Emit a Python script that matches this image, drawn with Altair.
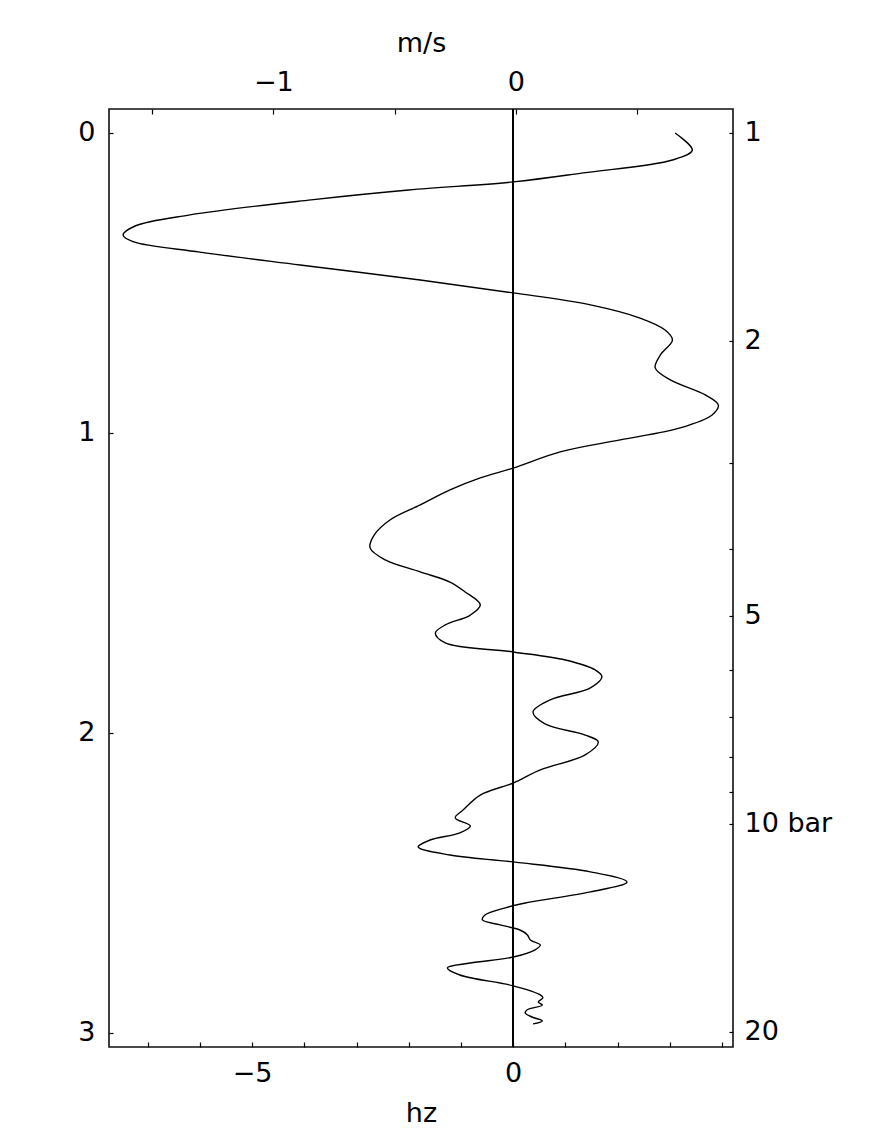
import altair as alt
import pandas as pd
import math

# ln(p) (left axis) and frequency in hz (bottom axis)
t_vals = [0.000, 0.057, 0.090, 0.133, 0.163, 0.190, 0.223, 0.273, 0.310, 0.340,
          0.362, 0.397, 0.440, 0.490, 0.533, 0.573, 0.617, 0.657, 0.690, 0.740,
          0.783, 0.823, 0.873, 0.907, 0.940, 0.983, 1.023, 1.063, 1.117, 1.150,
          1.190, 1.240, 1.290, 1.340, 1.383, 1.423, 1.463, 1.497, 1.530, 1.573,
          1.607, 1.640, 1.667, 1.700, 1.730, 1.757, 1.790, 1.813, 1.850, 1.890,
          1.930, 1.970, 2.007, 2.030, 2.073, 2.123, 2.167, 2.207, 2.257, 2.283,
          2.310, 2.333, 2.357, 2.380, 2.407, 2.430, 2.463, 2.497, 2.530, 2.567,
          2.583, 2.607, 2.623, 2.640, 2.657, 2.673, 2.690, 2.707, 2.723, 2.747,
          2.767, 2.783, 2.807, 2.843, 2.873, 2.883, 2.897, 2.907, 2.923, 2.933,
          2.947, 2.960, 2.970]
hz_vals = [3.10, 3.43, 3.05, 1.34, 0.00, -2.00, -3.87, -6.19, -7.24, -7.47,
           -7.28, -6.00, -4.08, -1.78, 0.00, 1.48, 2.43, 2.91, 3.05, 2.82,
           2.72, 3.01, 3.68, 3.93, 3.81, 3.20, 2.05, 0.90, 0.00, -0.63,
           -1.21, -1.78, -2.36, -2.66, -2.74, -2.45, -1.78, -1.21, -0.92, -0.63,
           -0.82, -1.30, -1.49, -1.30, 0.00, 1.00, 1.57, 1.70, 1.48, 0.71,
           0.38, 0.61, 1.38, 1.63, 1.38, 0.52, 0.00, -0.63, -0.96, -1.11,
           -0.82, -1.02, -1.59, -1.82, -1.21, 0.00, 1.48, 2.18, 1.48, 0.23,
           -0.15, -0.54, -0.59, -0.25, 0.13, 0.27, 0.33, 0.52, 0.42, 0.00,
           -0.82, -1.26, -1.02, 0.00, 0.52, 0.57, 0.48, 0.56, 0.27, 0.23,
           0.36, 0.56, 0.38]

hz_domain = [-7.74, 4.21]
ms_domain = [-1.678, 0.896]
t_domain = [-0.08, 3.047]
p_domain = [math.exp(t_domain[0]), math.exp(t_domain[1])]

hz_ticks = [-7, -6, -5, -4, -3, -2, -1, 0, 1, 2, 3, 4]
ms_ticks = [-1.5, -1, -0.5, 0, 0.5]
t_ticks = [0, 1, 2, 3]
p_ticks = [1, 2, 3, 4, 5, 6, 7, 8, 9, 10, 20]

curve = pd.DataFrame({"i": list(range(len(t_vals))), "t": t_vals, "hz": hz_vals})
ms_df = pd.DataFrame({"ms": [ms_ticks[0], ms_ticks[-1]]})
p_df = pd.DataFrame({"p": [p_ticks[0], p_ticks[-1]]})

FONT = "DejaVu Sans"
FS = 27

common_axis = dict(domain=False, grid=False, labelFont=FONT, labelFontSize=FS,
                   labelColor="black", tickColor="black", tickWidth=1.2,
                   labelOverlap=False, labelFlush=False,
                   titleFont=FONT, titleFontSize=FS, titleFontWeight="normal",
                   titleColor="black")

line = alt.Chart(curve).mark_line(color="black", strokeWidth=1.4,
                                  interpolate="catmull-rom").encode(
    x=alt.X("hz:Q", scale=alt.Scale(domain=hz_domain, nice=False, zero=False),
            axis=alt.Axis(orient="bottom", values=hz_ticks, title="hz",
                          labelExpr="datum.value == -5 ? '\u22125' : datum.value == 0 ? '0' : ''",
                          tickSize=5, offset=-5, labelPadding=13, titlePadding=14,
                          **common_axis)),
    y=alt.Y("t:Q", scale=alt.Scale(domain=t_domain, nice=False, zero=False, reverse=True),
            axis=alt.Axis(orient="left", values=t_ticks, title=None, format="d",
                          tickSize=4, offset=-4, labelPadding=14,
                          **common_axis)),
    order=alt.Order("i:Q"),
)

zero_rule = alt.Chart(curve).mark_rule(color="black", strokeWidth=1).encode(
    x=alt.datum(0, scale=alt.Scale(domain=hz_domain, nice=False, zero=False), axis=None)
)

top_axis = alt.Chart(ms_df).mark_point(opacity=0).encode(
    x=alt.X("ms:Q", scale=alt.Scale(domain=ms_domain, nice=False, zero=False),
            axis=alt.Axis(orient="top", values=ms_ticks, title="m/s",
                          labelExpr="datum.value == -1 ? '\u22121' : datum.value == 0 ? '0' : ''",
                          tickSize=5, offset=-5, labelPadding=13, titlePadding=11,
                          **common_axis)),
)

right_axis = alt.Chart(p_df).mark_point(opacity=0).encode(
    y=alt.Y("p:Q", scale=alt.Scale(type="log", domain=p_domain, nice=False, reverse=True),
            axis=alt.Axis(orient="right", values=p_ticks, title=None,
                          labelExpr="datum.value == 10 ? '10 bar' : (datum.value == 1 || datum.value == 2 || datum.value == 5 || datum.value == 20) ? toString(datum.value) : ''",
                          tickSize=4, offset=-4, labelPadding=11,
                          **common_axis)),
)

chart = alt.layer(line, zero_rule, top_axis, right_axis).resolve_scale(
    x="independent", y="independent"
).properties(
    width=624, height=938,
    autosize=alt.AutoSizeParams(type="none"),
    padding={"left": 101, "top": 101, "right": 120, "bottom": 90},
    background="white",
).configure_view(stroke="#111", strokeWidth=1.6)

chart.save("out.html", embed_options={"renderer": "svg", "actions": False})
